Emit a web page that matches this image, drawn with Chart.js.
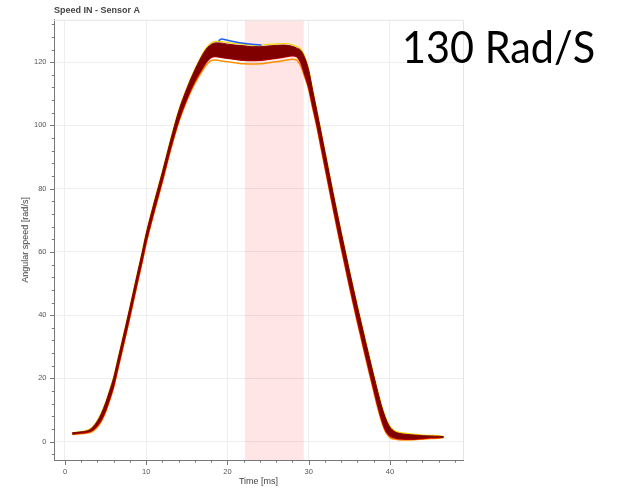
<!DOCTYPE html>
<html>
<head>
<meta charset="utf-8">
<script src="https://cdn.jsdelivr.net/npm/chart.js@4/dist/chart.umd.min.js"></script>
<style>
  html, body { margin: 0; padding: 0; background: #fff; }
  #wrap { position: relative; width: 619px; height: 489px; }
  #note {
    position: absolute; left: 402px; top: 24px;
    font-family: Lato, "Open Sans", sans-serif; font-size: 45px; line-height: 1;
    color: #000; white-space: nowrap;
    transform: scaleX(0.92); transform-origin: left top;
  }
</style>
</head>
<body>
<div id="wrap">
  <canvas id="chart" width="619" height="489"></canvas>
  <div id="note">130 Rad/S</div>
</div>
<script>
// time axis [ms]
const t = [0.9, 2, 3, 3.5, 4, 4.5, 5, 5.5, 6, 6.5, 7, 7.5, 8, 8.5, 9, 9.5, 10, 11, 12, 13,
  14, 15, 16, 17, 17.5, 18, 18.5, 19, 20, 21, 22, 23, 24, 25, 26, 27, 28, 28.5, 29, 29.5,
  30, 30.5, 31, 31.5, 32, 32.5, 33, 33.5, 34, 34.5, 35, 35.5, 36, 36.5, 37, 37.5, 38, 38.5, 39, 39.5,
  40, 40.5, 41, 42, 43, 44, 45, 46, 46.6];

// upper edge of the dense dark red bundle
const darkHi = [2.8, 3.1, 3.7, 4.8, 6.5, 9.0, 12.2, 16.1, 20.3, 25.8, 31.3, 36.8, 42.5, 48.3, 54.1, 59.8, 65.8, 75.8, 85.3, 95.3,
  104.5, 111.6, 117.6, 122.6, 124.5, 125.6, 126.1, 126.1, 125.7, 125.4, 125.2, 124.9, 124.9, 125.1, 125.3, 125.4, 125, 124.5,
  123.8, 121.5, 117.5, 111, 104.7, 98.2, 91.7, 85.2, 78.7, 72.4, 66.2, 60.2, 54.2, 48.4, 42.7, 37.2, 31.7, 26.3, 21, 15.8,
  11, 7.2, 4.6, 3.3, 2.7, 2.3, 2.1, 1.9, 1.8, 1.7, 1.6];

// lower edge of the dark red bundle
const darkLo = [2.4, 2.7, 3.1, 3.8, 5.1, 7.0, 9.8, 13.5, 17.7, 23.2, 28.7, 34.2, 39.9, 45.7, 51.5, 57.2, 63.2, 73.2, 82.7, 92.7,
  101.5, 108.4, 114, 118.4, 120.3, 121.5, 121.8, 121.6, 121.2, 120.9, 120.6, 120.5, 120.6, 120.9, 121.2, 121.6, 122, 121.8,
  120, 116.1, 112, 106, 100.3, 93.8, 87.3, 80.8, 74.3, 68, 61.8, 55.8, 49.8, 44, 38.3, 32.8, 27.3, 21.9, 16.6, 11.4,
  6.8, 3.4, 1.8, 1.2, 0.9, 0.8, 0.8, 1.0, 1.2, 1.3, 1.4];

// yellow trace just above the bundle
const yellowHi = [2.9, 3.2, 3.9, 5.0, 6.8, 9.3, 12.5, 16.4, 20.6, 26.1, 31.6, 37.1, 42.8, 48.6, 54.4, 60.1, 66.1, 76.1, 85.6, 95.6,
  104.8, 111.9, 117.9, 123, 124.9, 126.1, 126.6, 126.6, 126.2, 125.9, 125.7, 125.4, 125.4, 125.6, 125.8, 125.9, 125.5, 125.0,
  124.2, 121.9, 117.8, 111.3, 105, 98.5, 92, 85.5, 79, 72.7, 66.5, 60.5, 54.5, 48.7, 43, 37.5, 32, 26.6, 21.3, 16.1,
  11.3, 7.5, 4.9, 3.6, 3.0, 2.6, 2.3, 2.1, 2.0, 1.9, 1.7];

// orange trace just below the bundle
const orangeLo = [2.3, 2.5, 2.8, 3.4, 4.6, 6.5, 9.3, 13.0, 17.2, 22.7, 28.2, 33.7, 39.4, 45.2, 51, 56.7, 62.7, 72.7, 82.2, 92.2,
  101, 107.8, 113.3, 117.6, 119.4, 120.5, 120.7, 120.5, 120.1, 119.8, 119.5, 119.4, 119.5, 119.8, 120.1, 120.5, 120.9, 120.7,
  118.9, 115.4, 111.3, 105.3, 99.6, 93.1, 86.6, 80.1, 73.6, 67.3, 61.1, 55.1, 49.1, 43.3, 37.6, 32.1, 26.6, 21.2, 15.9, 10.7,
  6.2, 2.9, 1.3, 0.8, 0.6, 0.5, 0.6, 0.8, 1.0, 1.1, 1.3];

// single blue trace on top of the plateau
const blueT = [18.9, 19.3, 20, 21, 22, 23, 24.2];
const blueY = [126.8, 127.3, 126.9, 126.4, 126.0, 125.7, 125.4];

// short cyan stub at the very start
const cyanT = [0.9, 1.7];
const cyanY = [2.5, 2.7];

// highlighted window [ms]
const windowStart = 22.15;
const windowEnd = 29.4;

const FONT = "'Liberation Sans', Arial, Helvetica, sans-serif";
const pts = (xs, ys) => xs.map((x, i) => ({ x, y: ys[i] }));

const line = (data, color, width, extra) => Object.assign({
  data, borderColor: color, borderWidth: width, pointRadius: 0,
  cubicInterpolationMode: "monotone", fill: false,
}, extra || {});

// pink window + light frame on top/right, under the data
const frame = {
  id: "frame",
  beforeDatasetsDraw(chart) {
    const { ctx, chartArea: a, scales } = chart;
    const x0 = scales.x.getPixelForValue(windowStart);
    const x1 = scales.x.getPixelForValue(windowEnd);
    ctx.save();
    ctx.fillStyle = "rgba(255, 0, 0, 0.1)";
    ctx.fillRect(x0, a.top, x1 - x0, a.bottom - a.top);
    ctx.strokeStyle = "#e5e5e5";
    ctx.lineWidth = 1;
    ctx.beginPath();
    ctx.moveTo(a.left, a.top + 0.5);
    ctx.lineTo(a.right + 0.5, a.top + 0.5);
    ctx.lineTo(a.right + 0.5, a.bottom);
    ctx.stroke();
    ctx.restore();
  },
  // bokeh style ticks: minor ones shorter than major
  afterDraw(chart) {
    const { ctx, chartArea: a, scales } = chart;
    ctx.save();
    ctx.strokeStyle = "#777";
    ctx.lineWidth = 1;
    ctx.beginPath();
    scales.x.ticks.forEach((tk) => {
      const px = Math.round(scales.x.getPixelForValue(tk.value)) + 0.5;
      const len = tk.value % 10 === 0 ? 5 : 2.7;
      ctx.moveTo(px, a.bottom);
      ctx.lineTo(px, a.bottom + len);
    });
    scales.y.ticks.forEach((tk) => {
      const py = Math.round(scales.y.getPixelForValue(tk.value)) + 0.5;
      const len = tk.value % 20 === 0 ? 4 : 2.2;
      ctx.moveTo(a.left, py);
      ctx.lineTo(a.left - len, py);
    });
    ctx.stroke();
    ctx.restore();
  },
};

new Chart(document.getElementById("chart"), {
  type: "line",
  data: {
    datasets: [
      line(pts(blueT, blueY), "#1f5cff", 1.5),
      line(pts(t, darkHi), "#800000", 1, { fill: "+1", backgroundColor: "#800000" }),
      line(pts(t, darkLo), "#c00000", 1.5),
      line(pts(t, yellowHi), "#f2d600", 1.2),
      line(pts(t, orangeLo), "#ff9000", 1.5),
      line(pts(cyanT, cyanY), "#3cc8e6", 1.2),
    ],
  },
  options: {
    responsive: false,
    animation: false,
    layout: { padding: { top: 0, right: 156, bottom: 0, left: 0 } },
    plugins: {
      legend: { display: false },
      tooltip: { enabled: false },
      title: {
        display: true, text: "Speed IN - Sensor A", align: "start", fullSize: false,
        color: "#444", font: { family: FONT, size: 9, weight: "bold" },
        padding: { top: 5, bottom: 4 },
      },
    },
    scales: {
      x: {
        type: "linear", min: -1.35, max: 49,
        afterFit: (s) => { s.height = 29; },
        ticks: {
          stepSize: 2, includeBounds: false, autoSkip: false, maxRotation: 0,
          padding: 7, color: "#555", font: { family: FONT, size: 7.5 },
          callback: (v) => (v % 10 === 0 ? v : ""),
        },
        grid: {
          drawTicks: false,
          color: (c) => (c.tick && c.tick.value % 10 === 0 ? "#eeeeee" : "transparent"),
        },
        border: { color: "#777" },
        title: { display: true, text: "Time [ms]", color: "#444", font: { family: FONT, size: 9 }, padding: { top: 0, bottom: 2 } },
      },
      y: {
        min: -5.8, max: 133.4,
        afterFit: (s) => { s.width = 54; },
        ticks: {
          stepSize: 4, includeBounds: false, autoSkip: false,
          padding: 7.5, color: "#555", font: { family: FONT, size: 7.5 },
          callback: (v) => (v % 20 === 0 ? v : ""),
        },
        grid: {
          drawTicks: false,
          color: (c) => (c.tick && c.tick.value % 20 === 0 ? "#eeeeee" : "transparent"),
        },
        border: { color: "#777" },
        title: { display: true, text: "Angular speed [rad/s]", color: "#444", font: { family: FONT, size: 9 }, padding: { top: 20, bottom: 0 } },
      },
    },
  },
  plugins: [frame],
});
</script>
</body>
</html>
